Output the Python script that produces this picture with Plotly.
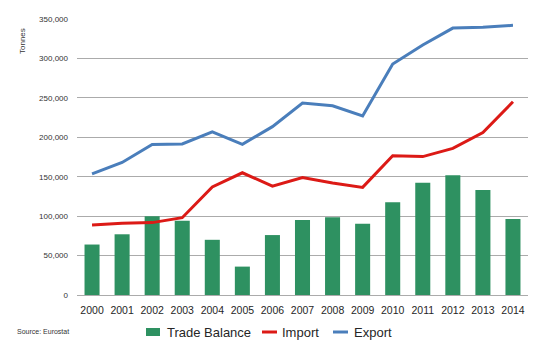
import plotly.graph_objects as go

years = [str(y) for y in range(2000, 2015)]
trade_balance = [64000, 77000, 100000, 94000, 70000, 36000, 76000, 95000, 98500, 90500, 117500, 142500, 152000, 133000, 96500]
imports = [88800, 91000, 91800, 98000, 137000, 155000, 138000, 149000, 142000, 136500, 176500, 175500, 186000, 206000, 245000]
exports = [153500, 168000, 191000, 191600, 207000, 191000, 213500, 243500, 240000, 227000, 293000, 317000, 338500, 339500, 342000]
y_ticks = [0, 50000, 100000, 150000, 200000, 250000, 300000, 350000]
y_tick_labels = ["0", "50,000", "100,000", "150,000", "200,000", "250,000", "300,000", "350,000"]
series_names = ["Trade Balance", "Import", "Export"]

GREEN = "#2E9161"
RED = "#DC1A16"
BLUE = "#4A7EBB"
TXT = "#262626"

W, H = 537, 348
ML, MR, MT, MB = 77, 9, 19, 53
PW, PH = W - ML - MR, H - MT - MB

def px(xp, yp):
    return (xp - ML) / PW, (H - MB - yp) / PH

fig = go.Figure()
fig.add_trace(go.Bar(x=years, y=trade_balance, name=series_names[0],
                     marker=dict(color=GREEN, line=dict(width=0))))
fig.add_trace(go.Scatter(x=years, y=imports, name=series_names[1], mode="lines",
                         line=dict(color=RED, width=3)))
fig.add_trace(go.Scatter(x=years, y=exports, name=series_names[2], mode="lines",
                         line=dict(color=BLUE, width=3)))

fig.update_layout(
    width=W, height=H,
    margin=dict(l=ML, r=MR, t=MT, b=MB, autoexpand=False),
    paper_bgcolor="white", plot_bgcolor="white",
    bargap=0.5,
    font=dict(family="Liberation Sans, Arial, sans-serif", color=TXT),
    showlegend=False,
    xaxis=dict(type="category", showgrid=False, showline=False, ticks="",
               tickfont=dict(size=10.5, color=TXT), ticklabelstandoff=7),
    yaxis=dict(range=[0, 350000], tickvals=y_ticks, ticktext=y_tick_labels,
               showgrid=True, gridcolor="#ABABAB", gridwidth=1,
               zeroline=True, zerolinecolor="#ABABAB", zerolinewidth=1,
               showline=False, ticks="", tickfont=dict(size=8, color="#333333"),
               ticklabelstandoff=8),
)

# axis title and source note
ax, ay = px(22, 41)
fig.add_annotation(text="Tonnes", x=ax, y=ay, xref="paper", yref="paper", showarrow=False,
                   textangle=-90, font=dict(size=8, color="#333333"),
                   xanchor="center", yanchor="middle")
sx, sy = px(15, 331)
fig.add_annotation(text="Source: Eurostat", x=sx, y=sy, xref="paper", yref="paper", showarrow=False,
                   font=dict(size=7, color="#333333"), xanchor="left", yanchor="middle")

# legend drawn below the plot
ly = 332
x0, y0 = px(146, ly - 4)
x1, y1 = px(160, ly + 4)
fig.add_shape(type="rect", xref="paper", yref="paper", x0=x0, x1=x1, y0=y1, y1=y0,
              fillcolor=GREEN, line=dict(width=0))
tx, ty = px(165, ly)
fig.add_annotation(text=series_names[0], x=tx, y=ty, xref="paper", yref="paper", showarrow=False,
                   font=dict(size=13, color=TXT), xanchor="left", yanchor="middle")
for (lx0, lx1, tx0, col, name) in [(262, 277, 280, RED, series_names[1]),
                                    (333, 348, 352, BLUE, series_names[2])]:
    a0, b0 = px(lx0, ly)
    a1, _ = px(lx1, ly)
    fig.add_shape(type="line", xref="paper", yref="paper", x0=a0, x1=a1, y0=b0, y1=b0,
                  line=dict(color=col, width=3))
    t0, t1 = px(tx0, ly)
    fig.add_annotation(text=name, x=t0, y=t1, xref="paper", yref="paper", showarrow=False,
                       font=dict(size=13, color=TXT), xanchor="left", yanchor="middle")

fig.write_html("out.html")
